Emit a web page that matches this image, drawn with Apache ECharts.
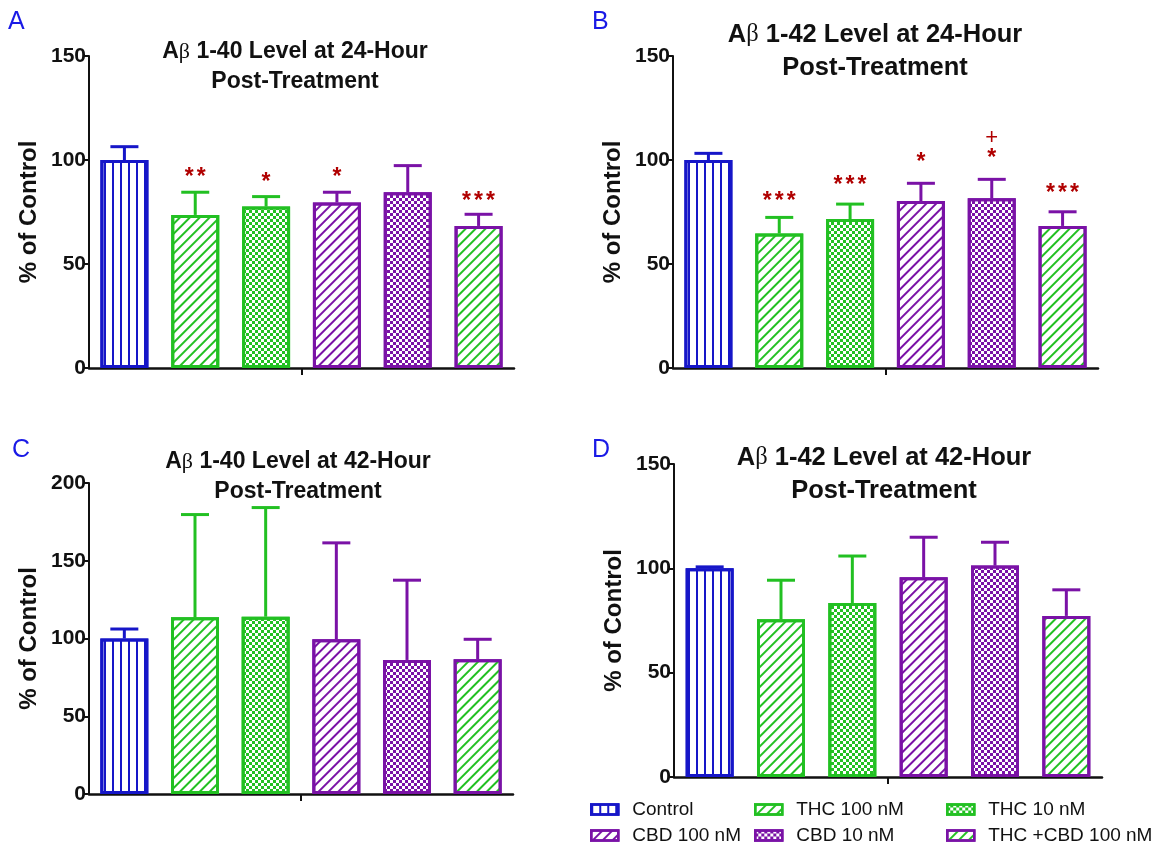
<!DOCTYPE html>
<html>
<head>
<meta charset="utf-8">
<title>Abeta levels after treatment</title>
<script src="https://cdn.jsdelivr.net/npm/echarts@6/dist/echarts.min.js"></script>
<style>
  html, body { margin: 0; background: #fff; }
  #chart { width: 1159px; height: 844px; }
</style>
</head>
<body>
<div id="chart"></div>
<script>
// bar order in every panel
var groups = ['Control', 'THC 100 nM', 'THC 10 nM', 'CBD 100 nM', 'CBD 10 nM', 'THC +CBD 100 nM']

// % of control (mean) and upper error bar (SEM) per panel
var meanA = [100, 73.6, 77.6, 79.6, 84.5, 68.3]
var errA = [6.4, 10.9, 4.8, 4.9, 12.8, 5.6]
var meanB = [100, 64.7, 71.6, 80.3, 81.6, 68.3]
var errB = [3.2, 7.7, 7.2, 8.5, 9.1, 6.8]
var meanC = [100, 113.6, 114, 99.5, 86.2, 86.6]
var errC = [6.1, 66.1, 70.2, 62, 51.3, 12.9]
var meanD = [100, 75.6, 83.4, 95.7, 101.3, 77.2]
var errD = [0.7, 18.7, 22.5, 19.2, 11.2, 12.5]

// y axis top and step (ticks 0..max)
var yMax = [150, 150, 200, 150]
var yStep = 50

// significance marks: bar index, text, height (% of control)
var starIdxA = [1, 2, 3, 5]
var starTextA = ['**', '*', '*', '***']
var starYA = [93.8, 91.3, 93.8, 82.2]
var starIdxB = [1, 2, 3, 4, 4, 5]
var starTextB = ['***', '***', '*', '*', '+', '***']
var starYB = [82.2, 89.9, 101, 102.9, 110.6, 86]

var titles = [
  ['1-40 Level at 24-Hour', 'Post-Treatment'],
  ['1-42 Level at 24-Hour', 'Post-Treatment'],
  ['1-40 Level at 42-Hour', 'Post-Treatment'],
  ['1-42 Level at 42-Hour', 'Post-Treatment']
]
var letters = ['A', 'B', 'C', 'D']

var FONT = '"Liberation Sans", Arial, sans-serif'
var blue = '#1616c8'
var green = '#22c022'
var purple = '#7a12a6'
var starRed = '#b00000'

function vlines (c) {
  return { color: c, symbol: 'rect', symbolSize: 1, symbolKeepAspect: false, dashArrayX: [1.2, 5.4], dashArrayY: [10, 0], rotation: 0 }
}
function hatch (c) {
  return { color: c, symbol: 'rect', symbolSize: 1, symbolKeepAspect: false, dashArrayX: [10, 0], dashArrayY: [1.6, 4.4], rotation: -Math.PI / 4 }
}
function checker (c) {
  return { color: c, symbol: 'rect', symbolSize: 1, symbolKeepAspect: false, dashArrayX: [[2.8, 2.8], [0, 2.8, 2.8, 0]], dashArrayY: [2.8, 0], rotation: 0 }
}

var looks = [
  { border: blue, decal: vlines(blue) },
  { border: green, decal: hatch(green) },
  { border: green, decal: checker(green) },
  { border: purple, decal: hatch(purple) },
  { border: purple, decal: checker(purple) },
  { border: purple, decal: hatch(green) }
]

var panels = [
  { grid: { left: 89, top: 56, width: 425, height: 312 }, mean: meanA, err: errA, title: [295, 52], titleSize: 23, letter: [8, 10] },
  { grid: { left: 673, top: 56, width: 425, height: 312 }, mean: meanB, err: errB, title: [875, 35], titleSize: 25.5, letter: [592, 10] },
  { grid: { left: 89, top: 483, width: 424, height: 311 }, mean: meanC, err: errC, title: [298, 462], titleSize: 23, letter: [12, 438] },
  { grid: { left: 674, top: 464, width: 428, height: 313 }, mean: meanD, err: errD, title: [884, 458], titleSize: 25.5, letter: [592, 438] }
]
var stars = [
  { idx: starIdxA, text: starTextA, y: starYA, panel: 0 },
  { idx: starIdxB, text: starTextB, y: starYB, panel: 1 }
]

var grids = []
var xAxes = []
var yAxes = []
var series = []
var graphics = []

panels.forEach(function (p, k) {
  grids.push(p.grid)
  xAxes.push({
    type: 'category',
    gridIndex: k,
    data: groups,
    axisLine: { lineStyle: { color: '#111', width: 2.5 } },
    axisTick: { show: false },
    axisLabel: { show: false }
  })
  yAxes.push({
    type: 'value',
    gridIndex: k,
    min: 0,
    max: yMax[k],
    interval: yStep,
    axisLine: { show: true, lineStyle: { color: '#111', width: 2 } },
    axisTick: { show: true, length: 6, lineStyle: { color: '#111', width: 2 } },
    axisLabel: { fontSize: 21, fontWeight: 'bold', color: '#111', fontFamily: FONT, margin: 3 },
    splitLine: { show: false },
    name: '% of Control',
    nameLocation: 'middle',
    nameGap: 48,
    nameTextStyle: { fontSize: 24, fontWeight: 'bold', color: '#111', fontFamily: FONT }
  })

  groups.forEach(function (g, j) {
    series.push({
      type: 'bar',
      name: g,
      xAxisIndex: k,
      yAxisIndex: k,
      barWidth: 48,
      barGap: '-100%',
      silent: true,
      data: p.mean.map(function (v, i) { return i === j ? v : '-' }),
      itemStyle: { color: '#fff', borderColor: looks[j].border, borderWidth: 3, decal: looks[j].decal }
    })
  })

  series.push({
    type: 'custom',
    xAxisIndex: k,
    yAxisIndex: k,
    silent: true,
    z: 3,
    data: p.mean.map(function (m, i) { return [i, m, m + p.err[i]] }),
    encode: { x: 0, y: [1, 2] },
    renderItem: function (params, api) {
      var x = api.value(0)
      var lo = api.coord([x, api.value(1)])
      var hi = api.coord([x, api.value(2)])
      var c = looks[params.dataIndex].border
      return {
        type: 'group',
        children: [
          { type: 'line', shape: { x1: lo[0], y1: lo[1], x2: hi[0], y2: hi[1] }, style: { stroke: c, lineWidth: 3 } },
          { type: 'line', shape: { x1: hi[0] - 14, y1: hi[1], x2: hi[0] + 14, y2: hi[1] }, style: { stroke: c, lineWidth: 3 } }
        ]
      }
    }
  })

  var lh = Math.round(p.titleSize * 1.3)
  graphics.push({
    type: 'text',
    x: p.title[0],
    y: p.title[1] + lh / 2,
    style: {
      text: '{t|A}{b|β}{t| ' + titles[k][0] + '}\n{t|' + titles[k][1] + '}',
      align: 'center',
      verticalAlign: 'middle',
      rich: {
        t: { fontSize: p.titleSize, fontWeight: 'bold', fontFamily: FONT, fill: '#111', lineHeight: lh },
        b: { fontSize: p.titleSize - 1, fontFamily: '"Liberation Serif", serif', fill: '#111', lineHeight: lh }
      }
    }
  })
  graphics.push({
    type: 'text',
    x: p.letter[0],
    y: p.letter[1],
    style: { text: letters[k], fontSize: 25, fontFamily: FONT, fill: '#1a1ae6', verticalAlign: 'top' }
  })
})

// single tick under the middle of each x axis (between 3rd and 4th bar)
panels.forEach(function (p, k) {
  xAxes.push({
    type: 'value',
    gridIndex: k,
    position: 'bottom',
    min: 0,
    max: groups.length,
    axisLine: { show: false },
    axisLabel: { show: false },
    splitLine: { show: false },
    axisTick: { show: true, length: 7, lineStyle: { color: '#111', width: 2 }, customValues: [groups.length / 2] }
  })
})

stars.forEach(function (s) {
  series.push({
    type: 'custom',
    xAxisIndex: s.panel,
    yAxisIndex: s.panel,
    silent: true,
    z: 4,
    data: s.idx.map(function (i, n) { return [i, s.y[n]] }),
    renderItem: function (params, api) {
      var pt = api.coord([api.value(0), api.value(1)])
      var t = s.text[params.dataIndex]
      if (t === '+') {
        return {
          type: 'text',
          x: pt[0],
          y: pt[1],
          style: { text: t, fill: starRed, fontSize: 22, fontFamily: FONT, align: 'center', verticalAlign: 'middle' }
        }
      }
      // asterisks drawn one by one, spaced like the original
      var n = t.length
      var kids = []
      for (var i = 0; i < n; i++) {
        kids.push({
          type: 'text',
          x: pt[0] + (i - (n - 1) / 2) * 12,
          y: pt[1] + 5,
          style: { text: '*', fill: starRed, fontSize: 23, fontWeight: 'bold', fontFamily: FONT, align: 'center', verticalAlign: 'middle' }
        })
      }
      return { type: 'group', children: kids }
    }
  })
})

// legend: 3 columns x 2 rows
var legendCols = [585, 749, 941]
var legendRows = [795, 821]
var legendOrder = [['Control', 'THC 100 nM', 'THC 10 nM'], ['CBD 100 nM', 'CBD 10 nM', 'THC +CBD 100 nM']]
var legends = []
legendOrder.forEach(function (row, r) {
  row.forEach(function (name, c) {
    legends.push({
      left: legendCols[c],
      top: legendRows[r],
      data: [name],
      icon: 'rect',
      itemWidth: 27,
      itemHeight: 10,
      selectedMode: false,
      itemStyle: { borderWidth: 2.5 },
      textStyle: { fontSize: 19, color: '#111', fontFamily: FONT, padding: [0, 0, 0, 9] }
    })
  })
})

var chart = echarts.init(document.getElementById('chart'))
chart.setOption({
  animation: false,
  backgroundColor: '#fff',
  aria: { enabled: true, decal: { show: true } },
  grid: grids,
  xAxis: xAxes,
  yAxis: yAxes,
  legend: legends,
  graphic: graphics,
  series: series
})
</script>
</body>
</html>
